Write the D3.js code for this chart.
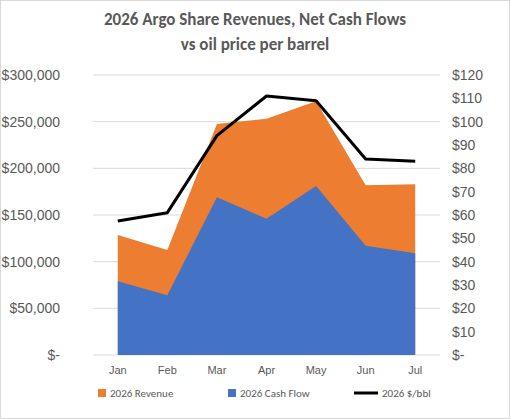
<!DOCTYPE html>
<html><head><meta charset="utf-8">
<script src="https://cdn.jsdelivr.net/npm/d3@7"></script>
<style>body{margin:0;background:#fff;font-family:Calibri,Carlito,"Liberation Sans",Arial,sans-serif}</style>
</head><body><svg id="c"></svg>
<script>
const months = ["Jan","Feb","Mar","Apr","May","Jun","Jul"];
const revenue = [128600, 112500, 247500, 253000, 272000, 182000, 183000];
const cashFlow = [79000, 64000, 169000, 146000, 181000, 117000, 109000];
const oilPrice = [57.4, 61, 94, 111, 109, 84, 83];
const leftTicks = [0, 50000, 100000, 150000, 200000, 250000, 300000];
const rightTicks = [0,10,20,30,40,50,60,70,80,90,100,110,120];

const W = 510, H = 419;
const m = {top: 75, bottom: 64, left: 93, right: 70};
const svg = d3.select("#c").attr("width", W).attr("height", H);
svg.append("rect").attr("x",0.5).attr("y",0.5).attr("width",W-1).attr("height",H-1)
  .attr("fill","#fff").attr("stroke","#d9d9d9");

const x = d3.scaleBand().domain(months).range([m.left, W - m.right]);
const cx = d => x(d) + x.bandwidth()/2;
const y = d3.scaleLinear().domain([0,300000]).range([H - m.bottom, m.top]);
const y2 = d3.scaleLinear().domain([0,120]).range([H - m.bottom, m.top]);

svg.append("g").selectAll("line").data(leftTicks).join("line")
  .attr("x1", m.left).attr("x2", W - m.right)
  .attr("y1", d => y(d)).attr("y2", d => y(d))
  .attr("stroke", "#d9d9d9");

const area = vals => d3.area().x((d,i) => cx(months[i])).y0(y(0)).y1(d => y(d))(vals);
svg.append("path").attr("d", area(revenue)).attr("fill", "#ed7d31");
svg.append("path").attr("d", area(cashFlow)).attr("fill", "#4472c4");
svg.append("path").attr("fill","none").attr("stroke","#000").attr("stroke-width",3)
  .attr("stroke-linejoin","round")
  .attr("d", d3.line().x((d,i) => cx(months[i])).y(d => y2(d))(oilPrice));

const fmtL = d => d === 0 ? "$-" : "$" + d3.format(",")(d);
const fmtR = d => d === 0 ? "$-" : "$" + d;
const ax1 = svg.append("g").attr("transform", `translate(${m.left - 30},0)`)
  .call(d3.axisLeft(y).tickValues(leftTicks).tickFormat(fmtL).tickSize(0));
const ax2 = svg.append("g").attr("transform", `translate(${W - m.right + 15},0)`)
  .call(d3.axisRight(y2).tickValues(rightTicks).tickFormat(fmtR).tickSize(0));
const ax3 = svg.append("g").attr("transform", `translate(0,${H - m.bottom + 8})`)
  .call(d3.axisBottom(x).tickSize(0));
ax3.selectAll("text").attr("font-size", 11);
[ax1, ax2, ax3].forEach(a => {
  a.select(".domain").remove();
  a.selectAll("text").attr("fill", "#595959").style("font-family", "inherit");
});
ax1.selectAll("text").attr("font-size", 14);
ax2.selectAll("text").attr("font-size", 14).attr("dx", -6);
ax1.selectAll("text").attr("text-anchor","end");

svg.append("text").attr("x", 255).attr("y", 25).attr("text-anchor","middle")
  .attr("font-size", 17).attr("font-weight","bold").attr("fill","#595959")
  .text("2026 Argo Share Revenues, Net Cash Flows");
svg.append("text").attr("x", 255).attr("y", 50).attr("text-anchor","middle")
  .attr("font-size", 17).attr("font-weight","bold").attr("fill","#595959")
  .text("vs oil price per barrel");

const legend = [
  {label:"2026 Revenue", color:"#ed7d31", x:98, type:"rect"},
  {label:"2026 Cash Flow", color:"#4472c4", x:228, type:"rect"},
  {label:"2026 $/bbl", color:"#000", x:362, type:"line"}
];
const lg = svg.append("g").selectAll("g").data(legend).join("g")
  .attr("transform", d => `translate(${d.x},393)`);
lg.filter(d => d.type === "rect").append("rect")
  .attr("x",0).attr("y",-4).attr("width",8).attr("height",8).attr("fill", d => d.color);
lg.filter(d => d.type === "line").append("line")
  .attr("x1",-8).attr("x2",16).attr("y1",0).attr("y2",0).attr("stroke","#000").attr("stroke-width",3);
lg.append("text").attr("x", d => d.type === "line" ? 20 : 12).attr("y", 4)
  .attr("font-size", 11).attr("fill", "#595959").text(d => d.label);
</script></body></html>
